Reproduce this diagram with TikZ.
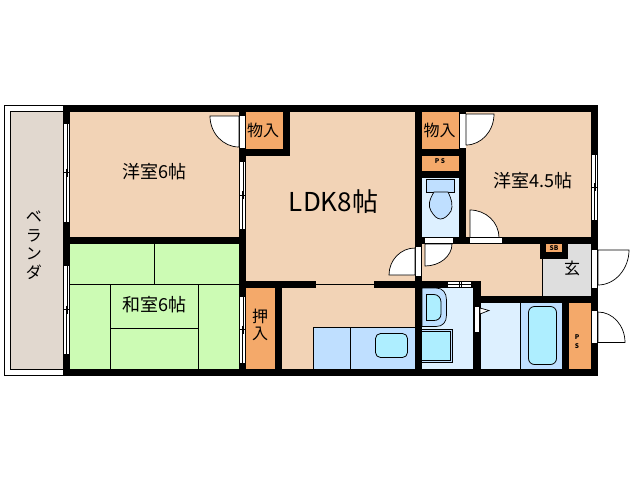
\documentclass[tikz,border=0pt]{standalone}
\usepackage{fontspec}
\setmainfont{Noto Sans CJK JP}
\definecolor{room}{HTML}{F2D3B6}
\definecolor{closet}{HTML}{F4A96A}
\definecolor{tatami}{HTML}{CCFBB4}
\definecolor{veranda}{HTML}{E1D8CF}
\definecolor{wash}{HTML}{DDF0FF}
\definecolor{fixture}{HTML}{BFDFFF}
\definecolor{basin}{HTML}{AEEEFF}
\definecolor{entry}{HTML}{DEDEDE}
\newcommand{\vwin}[3]{%
  \fill[white] (#1,#2) rectangle (#1+7,#3);
  \draw[thin1] (#1+0.5,#2) -- (#1+0.5,#3) (#1+6.5,#2) -- (#1+6.5,#3) (#1,#2) -- (#1+7,#2) (#1,#3) -- (#1+7,#3);
  \draw[thin1] (#1+3,{(#2+#3)/2-4}) -- (#1+3,#3) (#1+4,#2) -- (#1+4,{(#2+#3)/2+4}) (#1+0.5,{(#2+#3)/2}) -- (#1+6.5,{(#2+#3)/2});}
\tikzset{
  thin1/.style={draw=black,line width=0.7pt},
  wall/.style={fill=black},
  doorleaf/.style={fill=white,draw=black,line width=0.7pt},
  label/.style={inner sep=0pt,font=\fontsize{18}{18}\selectfont},
  tiny/.style={inner sep=0pt,font=\bfseries\fontsize{6.5}{9}\selectfont},
  fix/.style={fill=fixture,draw=black,line width=0.7pt},
  bowl/.style={fill=basin,draw=black,line width=0.8pt},
}
\begin{document}
\begin{tikzpicture}[x=1pt,y=-1pt]
\useasboundingbox (0,0) rectangle (638,480);
% veranda
\draw[fill=white,line width=0.7pt] (4.5,105.5) rectangle (64,375.5);
\draw[fill=veranda,line width=0.7pt] (10.5,111.5) rectangle (64,369.5);
% rooms
\fill[room] (64,105) rectangle (598,376);
\fill[tatami] (70,244) rectangle (239,369);
\draw[line width=0.7pt] (154.5,244) -- (154.5,284.5) (70,284.5) -- (239,284.5)
  (110.5,284.5) -- (110.5,369) (198.5,284.5) -- (198.5,369) (110.5,328.5) -- (198.5,328.5);
\fill[closet] (246,112) rectangle (283,149);
\fill[closet] (246,288) rectangle (275,369);
\fill[closet] (422,112) rectangle (459,149);
\fill[closet] (422,156) rectangle (459,171);
\fill[wash] (422,178) rectangle (459,237);
\fill[wash] (422,288) rectangle (473,369);
\fill[wash] (481,303) rectangle (521,369);
\fill[fixture] (521,303) rectangle (562,369);
\fill[closet] (569,303) rectangle (591,369);
\fill[entry] (568,244) rectangle (591,259) (543,259) rectangle (591,296);
\draw[line width=0.7pt] (542.5,259) -- (542.5,296) (520.5,303) -- (520.5,369);
% kitchen counter
\draw[fix] (313.5,327.5) rectangle (415,369) (350.5,327.5) -- (350.5,369);
\draw[bowl,rounded corners=5pt] (375.5,333.5) rectangle (407.5,357.5);
% bath tub
\draw[bowl,rounded corners=6pt] (528.5,306.5) rectangle (556.5,364.5);
% toilet
\draw[fix] (426.5,179.5) rectangle (454.5,192);
\draw[fix] (434,192) .. controls (429,200) and (428,206) .. (431,211) .. controls (434,216) and (437,219) .. (440.5,219) .. controls (444,219) and (448,216) .. (451,211) .. controls (453,206) and (452,200) .. (448,192) -- cycle;
% washroom fixtures
\draw[fix] (422,288) -- (436,288) .. controls (443,288) and (446.5,293) .. (446.5,300) -- (446.5,315) .. controls (446.5,322) and (443,326.5) .. (436,326.5) -- (422,326.5) -- cycle;
\draw[bowl] (426.5,294.5) -- (434,294.5) .. controls (438,294.5) and (441,298) .. (441,302) -- (441,314) .. controls (441,318) and (438,320.5) .. (434,320.5) -- (426.5,320.5) -- cycle;
\draw[fix] (422,329.5) -- (452.5,329.5) -- (452.5,362.5) -- (422,362.5);
\draw[bowl] (422,331.5) -- (450.5,331.5) -- (450.5,360.5) -- (422,360.5);
% walls
\fill[wall] (63,105) rectangle (598,112);
\fill[wall] (63,369) rectangle (598,376);
\fill[wall] (63,105) rectangle (70,376);
\fill[wall] (591,105) rectangle (598,376);
\fill[wall] (70,237) rectangle (239,244);
\fill[wall] (239,105) rectangle (246,376);
\fill[wall] (246,149) rectangle (290,156);
\fill[wall] (283,105) rectangle (290,156);
\fill[wall] (246,281) rectangle (316,288);
\fill[wall] (275,281) rectangle (282,376);
\fill[wall] (374,281) rectangle (422,288);
\fill[wall] (415,105) rectangle (422,376);
\fill[wall] (422,149) rectangle (466,156);
\fill[wall] (422,171) rectangle (466,178);
\fill[wall] (459,105) rectangle (466,244);
\fill[wall] (415,237) rectangle (598,244);
\fill[wall] (422,281) rectangle (481,288);
\fill[wall] (473,281) rectangle (481,376);
\fill[wall] (474,296) rectangle (598,303);
\fill[wall] (562,303) rectangle (569,376);
\fill[wall] (540,244) rectangle (568,259);
\draw[line width=0.7pt] (316,284.5) -- (374,284.5);
\fill[closet] (546,244) rectangle (562,252);
% windows
\vwin{63}{123}{222}
\vwin{63}{265}{354}
\vwin{239}{161}{229}
\vwin{239}{296}{363}
\vwin{591}{154}{220}
% door jambs
\fill[white] (240,116) rectangle (245,148);
\fill[white] (459.5,114) rectangle (466,148);
\fill[white] (425,238) rectangle (453,243);
\fill[white] (470,238) rectangle (502,243);
\fill[white] (416,247) rectangle (421,276);
\fill[white] (592,250) rectangle (597,288);
\fill[white] (592,311) rectangle (597,343);
\fill[white] (475,307) rectangle (479,332);
% door leaves
\draw[doorleaf] (239,116) -- (210,116) .. controls (210,133) and (223,147) .. (239,147) -- cycle;
\draw[doorleaf] (466,114) -- (494,114) .. controls (494,131) and (481.5,145) .. (466,145) -- cycle;
\draw[doorleaf] (470,237.5) -- (470,210) .. controls (486,210) and (499,222.3) .. (499,237.5) -- cycle;
\draw[doorleaf] (425,244) -- (452,244) .. controls (452,256) and (440,266) .. (425,266) -- cycle;
\draw[doorleaf] (415,275) -- (389,275) .. controls (389,260) and (400.7,248) .. (415,248) -- cycle;
\draw[doorleaf] (598,250) -- (629,250) .. controls (629,269) and (615,285) .. (598,285) -- cycle;
\draw[doorleaf] (598,342.5) -- (598,312) .. controls (613,312) and (625,325.7) .. (625,342.5) -- cycle;
\draw[doorleaf] (480,308) -- (489,310.5) -- (480,314) -- cycle;
% kitchen window above wash
\fill[white] (448,282) rectangle (471,287);
\draw[line width=0.5pt] (448,284.5) -- (471,284.5) (459,282) -- (459,287) (461,282) -- (461,287);
% labels
\node[label] (yoshitsuA) at (154.5,172) {洋室6帖};
\node[label] (yoshitsuB) at (533,181) {洋室4.5帖};
\node[label,font=\fontsize{26}{26}\selectfont] (ldk) at (333.5,202) {LDK8帖};
\node[label] (washitsu) at (154.5,305) {和室6帖};
\node[label,font=\fontsize{16}{16}\selectfont] (monoA) at (263,130) {物入};
\node[label,font=\fontsize{16}{16}\selectfont] (monoB) at (439.5,130) {物入};
\node[label,align=center,font=\fontsize{16}{17.5}\selectfont] (oshi) at (260,325) {押\\入};
\node[label,align=center,font=\fontsize{16}{18.5}\selectfont] (beranda) at (34,245) {ベ\\ラ\\ン\\ダ};
\node[label,font=\fontsize{16}{16}\selectfont] (genkan) at (572,268) {玄};
\node[tiny] (psA) at (440,161.5) {P S};
\node[tiny] (sb) at (554,248) {SB};
\node[tiny,align=center] (psB) at (577,342) {P\\S};
\end{tikzpicture}
\end{document}
